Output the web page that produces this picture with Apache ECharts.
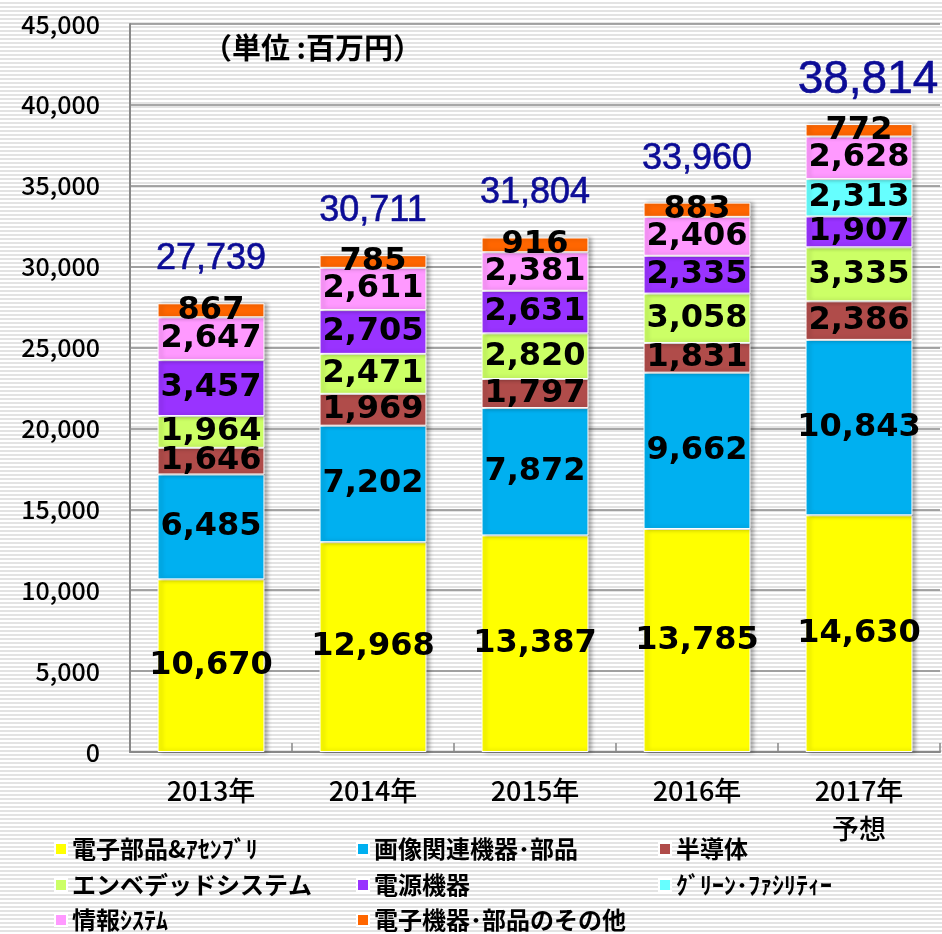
<!DOCTYPE html>
<html><head><meta charset="utf-8">
<script src="https://cdn.jsdelivr.net/npm/echarts@6/dist/echarts.min.js"></script>
<style>html,body{margin:0;padding:0;background:#fff}#c{width:942px;height:934px}</style>
</head><body><div id="c"></div>
<script>
const categories = ['2013年','2014年','2015年','2016年','2017年\n予想'];
const seriesNames = ['電子部品&ｱｾﾝﾌﾞﾘ','画像関連機器･部品','半導体','エンベデッドシステム','電源機器','ｸﾞﾘｰﾝ･ﾌｧｼﾘﾃｨｰ','情報ｼｽﾃﾑ','電子機器･部品のその他'];
const electronicParts = [10670,12968,13387,13785,14630];
const imaging = [6485,7202,7872,9662,10843];
const semiconductor = [1646,1969,1797,1831,2386];
const embedded = [1964,2471,2820,3058,3335];
const power = [3457,2705,2631,2335,1907];
const green = [null,null,null,null,2313];
const infoSystem = [2647,2611,2381,2406,2628];
const others = [867,785,916,883,772];
const totals = [27739,30711,31804,33960,38814];
const yTicks = {min:0, max:45000, interval:5000};
const unitText = '（単位 :百万円）';
const colors = ['#FFFF00','#00B0F0','#B04C4A','#CCFF66','#9933FF','#66FFFF','#FF99FF','#FF6600'];
const values = [electronicParts, imaging, semiconductor, embedded, power, green, infoSystem, others];

// striped background pattern
const pc = document.createElement('canvas');
pc.width = 8; pc.height = 4;
const pctx = pc.getContext('2d');
pctx.fillStyle = '#ffffff'; pctx.fillRect(0,0,8,4);
pctx.fillStyle = '#e3e3e3'; pctx.fillRect(0,2,8,2);

const fmt = v => Number(v).toLocaleString('en-US');

const chart = echarts.init(document.getElementById('c'));
const series = values.map((arr, i) => ({
  name: seriesNames[i], type: 'bar', stack: 'total', data: arr,
  barWidth: '66%',
  itemStyle: {color: colors[i], borderColor: '#ffffff', borderWidth: 1,
    shadowColor: 'rgba(0,0,0,0.3)', shadowBlur: 4, shadowOffsetX: 3, shadowOffsetY: 0},
  label: {show: true, position: 'inside', color: '#000',
    fontFamily: 'DejaVu Sans', fontWeight: 'bold', fontSize: 32,
    formatter: p => p.value == null ? '' : fmt(p.value)}
}));
// forecast year total is shown larger in the reference
const totalData = totals.map((v, i) => i === totals.length - 1
  ? {value: v, label: {fontSize: 46, distance: 21, offset: [9, 0]}} : v);
series.push({
  name: 'total', type: 'scatter', data: totalData, symbolSize: 0, silent: true,
  itemStyle: {opacity: 1},
  label: {show: true, position: 'top', distance: 26, color: '#0c0c96', opacity: 1,
    textBorderColor: '#0c0c96', textBorderWidth: 0.6,
    fontFamily: 'Liberation Sans', fontSize: 36, formatter: p => fmt(p.value)}
});

const legendText = {color:'#000', fontFamily:'Noto Sans CJK JP', fontWeight:'bold', fontSize:24};
const colX = [54, 356, 658];
const rowY = [851, 887, 922];
const legendPos = [[0,0],[1,0],[2,0],[0,1],[1,1],[2,1],[0,2],[1,2]];
const legends = seriesNames.map((n, i) => ({
  left: colX[legendPos[i][0]], top: rowY[legendPos[i][1]] - 14, padding: 0,
  itemWidth: 12, itemHeight: 12, itemGap: 0, icon: 'rect', selectedMode: false,
  textStyle: legendText, data: [n]
}));

chart.setOption({
  animation: false,
  backgroundColor: {image: pc, repeat: 'repeat'},
  color: colors,
  grid: {left: 130, right: 2, top: 24, bottom: 182},
  legend: legends,
  graphic: [{type:'text', x: 203, y: 48,
    style: {text: unitText, fill:'#000', font:'bold 29px "Noto Sans CJK JP"', verticalAlign:'middle'}}],
  xAxis: {type:'category', data: categories,
    axisLine: {lineStyle: {color:'#888', width: 2}},
    axisTick: {show: true, inside: true, length: 9, lineStyle: {color:'#888', width: 1.5}},
    axisLabel: {color:'#000', fontFamily:'Noto Sans CJK JP', fontWeight: 500, fontSize: 27, margin: 20, lineHeight: 38}},
  yAxis: {type:'value', min: yTicks.min, max: yTicks.max, interval: yTicks.interval,
    axisLine: {show: true, lineStyle: {color:'#888', width: 2}},
    axisTick: {show: false},
    splitLine: {lineStyle: {color:'#8a8a8a', width: 1.5}},
    axisLabel: {color:'#000', fontFamily:'Noto Sans CJK JP', fontWeight: 500, fontSize: 25, margin: 30, formatter: v => fmt(v)}},
  series: series
});
</script></body></html>
